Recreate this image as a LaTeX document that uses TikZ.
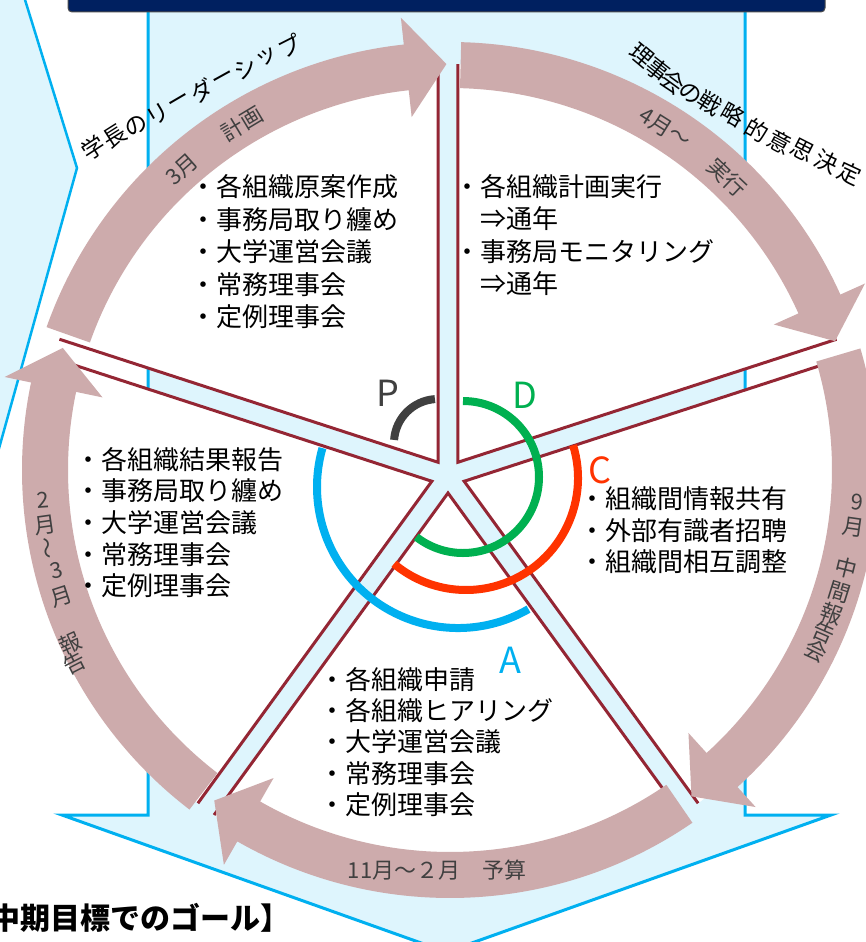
\documentclass[tikz,border=0pt]{standalone}
\usepackage{fontspec}
\setmainfont{Noto Sans CJK JP}
\usetikzlibrary{calc}
\definecolor{bgblue}{RGB}{222,245,253}
\definecolor{lineblue}{RGB}{0,176,240}
\definecolor{navy}{RGB}{0,32,96}
\definecolor{ringpink}{RGB}{205,171,172}
\definecolor{spokered}{RGB}{148,38,52}
\definecolor{pgray}{RGB}{64,64,64}
\definecolor{dgreen}{RGB}{0,176,80}
\definecolor{cred}{RGB}{255,51,0}
\definecolor{ablue}{RGB}{0,176,240}
\tikzset{
 lst/.style={anchor=west, inner sep=0pt, font=\fontsize{26}{30}\selectfont, text height=0.8em, text depth=0.1em},
 rtxt/.style={inner sep=0pt, text=pgray, font=\fontsize{22}{24}\selectfont},
 otxt/.style={inner sep=0pt, text=black, font=\fontsize{23}{26}\selectfont},
 spk/.style={draw=spokered, line width=3pt, line join=miter},
 pdca/.style={line width=8pt},
 letter/.style={inner sep=0pt, font=\fontsize{36}{40}\selectfont},
}
\begin{document}
\begin{tikzpicture}[x=1pt,y=-1pt]
\useasboundingbox (0,0) rectangle (865,942);
\fill[white] (0,0) rectangle (865,942);
% left chevron
\filldraw[fill=bgblue, draw=lineblue, line width=2.5pt] (-10,-10) -- (22,-10) -- (77,168) -- (-2,452) -- (-10,452) -- cycle;
% big down arrow
\filldraw[fill=bgblue, draw=lineblue, line width=3pt] (148,-10) -- (745,-10) -- (745,815) -- (831,815) -- (446.5,952) -- (62,815) -- (148,815) -- cycle;
% navy title box
\filldraw[fill=navy, draw=black!70, line width=1pt, rounded corners=4pt] (68,-20) rectangle (825,12);
\coordinate (SC) at (448,476);
\coordinate (RC) at (450,470);
% white sectors
\foreach \a [evaluate=\a as \m using \a+36, evaluate=\a as \s using \a+1.39, evaluate=\a as \e using \a+70.61] in {198,270,342,414,486}{
  \fill[white] (SC) ++(\m:17) -- ++(\a:398) arc[start angle=\s, end angle=\e, radius=412] -- cycle;
}
% spoke borders
\foreach \a [evaluate=\a as \m using \a+36] in {198,270,342,414,486}{
  \draw[spk] (SC) ++(\m:17) ++(\a:398) -- ++(\a:-398) -- ++(\a+72:398);
}
% pink circular arrows
\foreach \a [evaluate=\a as \s using \a+1.5, evaluate=\a as \t using \a+71.5, evaluate=\a as \b using \a+65.8] in {198,270,342,414,486}{
  \fill[ringpink] (RC) ++(\s:428) arc[start angle=\s, end angle=\b, radius=428]
    -- ($(RC)+(\b:455)$) -- ($(RC)+(\t:406)$) -- ($(RC)+(\b:355)$) -- ($(RC)+(\b:382)$)
    arc[start angle=\b, end angle=\s, radius=382] -- cycle;
}
% PDCA arcs
\draw[pdca, pgray] (438,443) ++(184:44) arc[start angle=184, end angle=266, radius=44];
\draw[pdca, dgreen] (463,477) ++(-90:76) arc[start angle=-90, end angle=128, radius=76];
\draw[pdca, cred] (466,478) ++(-17:112) arc[start angle=-17, end angle=130, radius=112];
\draw[pdca, ablue] (458,487) ++(60:141) arc[start angle=60, end angle=196, radius=141];
\node[letter, text=pgray] (P) at (388,393) {P};
\node[letter, text=dgreen] (D) at (525,395) {D};
\node[letter, text=cred] (C) at (600,470) {C};
\node[letter, text=ablue] (A) at (510,660) {A};
% lists
\node[lst] (tl1) at (190,193) {・各組織原案作成};
\node[lst] (tl2) at (190,225.5) {・事務局取り纏め};
\node[lst] (tl3) at (190,258) {・大学運営会議};
\node[lst] (tl4) at (190,290.5) {・常務理事会};
\node[lst] (tl5) at (190,323) {・定例理事会};
\node[lst] (tr1) at (454,193) {・各組織計画実行};
\node[lst] (tr2) at (454,225) {　⇒通年};
\node[lst] (tr3) at (454,258) {・事務局モニタリング};
\node[lst] (tr4) at (454,290) {　⇒通年};
\node[lst] (rt1) at (579,505) {・組織間情報共有};
\node[lst] (rt2) at (579,537) {・外部有識者招聘};
\node[lst] (rt3) at (579,568) {・組織間相互調整};
\node[lst] (bt1) at (319,686) {・各組織申請};
\node[lst] (bt2) at (319,717) {・各組織ヒアリング};
\node[lst] (bt3) at (319,748) {・大学運営会議};
\node[lst] (bt4) at (319,780) {・常務理事会};
\node[lst] (bt5) at (319,811) {・定例理事会};
\node[lst] (lf1) at (75,466) {・各組織結果報告};
\node[lst] (lf2) at (75,497) {・事務局取り纏め};
\node[lst] (lf3) at (75,529) {・大学運営会議};
\node[lst] (lf4) at (75,561) {・常務理事会};
\node[lst] (lf5) at (75,592) {・定例理事会};
% ring labels
\node[rtxt, rotate=41.7] (pl1) at ($(RC)+(228.3:403)$) {3月};
\node[rtxt, rotate=31] (pl2) at ($(RC)+(239:404)$) {計画};
\node[rtxt, rotate=-32.2] (dl1) at ($(RC)+(302.2:404)$) {4月～};
\node[rtxt, rotate=-43.5] (dl2) at ($(RC)+(313.5:403)$) {実行};
\foreach \t/\c [count=\i, evaluate=\t as \r using -\t] in {4.5/9,8.1/月,13.9/中,17.4/間,20.6/報,23.5/告,26.3/会}
  \node[rtxt, rotate=\r] (cl\i) at ($(RC)+(\t:408)$) {\c};
\foreach \x/\y/\r/\c [count=\i] in {43/500/4/2,45/525/8/月,50/548/101/～,57/570/14/3,62/597/18/月,70/643/24/報,75/663/27/告}
  \node[rtxt, rotate=\r] (al\i) at (\x,\y) {\c};
\node[rtxt] (bud) at (437,870) {11月～２月　予算};
% outer labels
\foreach \c [count=\i, evaluate=\i as \x using 93+21.8*(\i-1), evaluate=\i as \y using 148-11.33*(\i-1), evaluate=\i as \r using 33-0.667*(\i-1)] in {学,長,の,リ,ー,ダ,ー,シ,ッ,プ}
  \node[otxt, rotate=\r] (gl\i) at (\x,\y) {\c};
\foreach \x/\y/\r/\c [count=\i] in {642/55/-40/理,658/70/-38/事,673/82/-36/会,690/93/-34/の,710/103/-32/戦,733/115/-30/略,757/130/-29/的,780/142/-28/意,803/150/-27/思,827/162/-26/決,850/173/-25/定}
  \node[otxt, rotate=\r] (sl\i) at (\x,\y) {\c};
% bottom goal title
\node[inner sep=0pt, anchor=east, font=\fontsize{30}{32}\selectfont\bfseries] (goal) at (291,918) {中期目標でのゴール】};
\end{tikzpicture}
\end{document}
